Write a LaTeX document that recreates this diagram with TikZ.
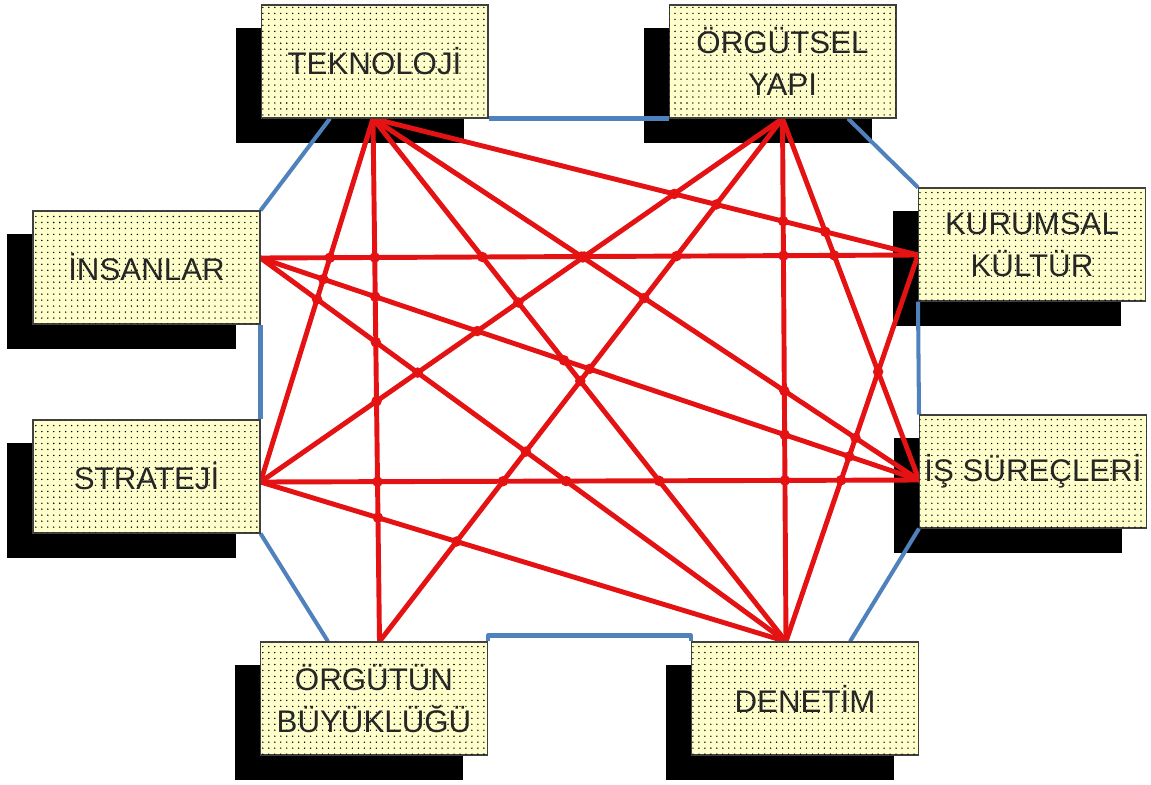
\documentclass[tikz,border=0pt]{standalone}
\usepackage{fontspec}
\setmainfont{Liberation Sans}
\usetikzlibrary{patterns.meta,calc}
\definecolor{boxfill}{RGB}{255,255,204}
\definecolor{linkred}{RGB}{228,18,18}
\definecolor{ringblue}{RGB}{79,129,189}
\pgfdeclarelayer{shadowlayer}
\pgfdeclarelayer{linklayer}
\pgfsetlayers{shadowlayer,linklayer,main}
\tikzset{
  factor/.style={draw=black!75, line width=0.6pt, fill=boxfill,
    postaction={pattern={Dots[distance=3.4pt,radius=0.45pt]}, pattern color=black},
    minimum width=4.54cm, minimum height=2.26cm, inner sep=0pt, align=center,
    font=\fontsize{17.8}{23.8}\selectfont, text=black!85},
  boxshadow/.style={fill=black},
  ring/.style={draw=ringblue, line width=2.3pt, line join=round},
  link/.style={draw=linkred, line width=2.8pt, line cap=round},
  linkjoint/.style={fill=linkred}
}
\def\linklist{t/k,t/p,t/s,t/b,t/d,o/s,o/b,o/d,o/p,i/k,i/p,i/d,s/p,s/d,k/d}
\begin{document}
\begin{tikzpicture}[x=0.02cm, y=-0.02cm]
\useasboundingbox (0,0) rectangle (1151,784);

% factor boxes
\node[factor] (tek) at (374.5,61.5) {TEKNOLOJİ};
\node[factor] (org) at (782.5,61.5) {ÖRGÜTSEL\\YAPI};
\node[factor] (ins) at (146.5,267.5) {İNSANLAR};
\node[factor] (kur) at (1032,244.5) {KURUMSAL\\KÜLTÜR};
\node[factor] (isr) at (1033,471.5) {İŞ SÜREÇLERİ};
\node[factor] (str) at (146.5,476.5) {STRATEJİ};
\node[factor] (buy) at (374,698.5) {ÖRGÜTÜN\\BÜYÜKLÜĞÜ};
\node[factor] (den) at (805,698.5) {DENETİM};

% solid shadows behind the boxes
\begin{pgfonlayer}{shadowlayer}
\foreach \bx in {tek,org,ins,kur,isr,str,buy,den}
  \fill[boxshadow] ([shift={(-25,24)}]\bx.south west) rectangle ([shift={(-25,24)}]\bx.north east);
\end{pgfonlayer}

% end points of the red links
\coordinate (t) at ([shift={(-1.5,0)}]tek.south);
\coordinate (o) at (org.south);
\coordinate (i) at ([shift={(0,-9.5)}]ins.east);
\coordinate (k) at ([shift={(0,10.5)}]kur.west);
\coordinate (p) at ([shift={(0,8.5)}]isr.west);
\coordinate (s) at ([shift={(0,5.5)}]str.east);
\coordinate (b) at ([shift={(5.5,0)}]buy.north);
\coordinate (d) at ([shift={(-19,0)}]den.north);

% points where the blue ring meets the boxes
\coordinate (rt) at ([shift={(-44.5,0)}]tek.south);
\coordinate (rb) at ([shift={(-46,0)}]buy.north);
\coordinate (rd) at ([shift={(45,0)}]den.north);
\coordinate (ro) at ([shift={(65.5,0)}]org.south);

\begin{pgfonlayer}{linklayer}
% outer blue ring
\draw[ring] (rt) -- (ins.north east);
\draw[ring] (ins.south east) -- (str.north east);
\draw[ring] (str.south east) -- (rb);
\draw[ring] (buy.north east) -- ++(0,-6) -| (den.north west);
\draw[ring] (rd) -- (isr.south west);
\draw[ring] (isr.north west) -- (kur.south west);
\draw[ring] (kur.north west) -- (ro);
\draw[ring] (org.south west) -- (tek.south east);

% red links between the factors
\foreach \u/\v in \linklist
  \draw[link] (\u) -- (\v);

% round joints where two links cross
\foreach \a/\b [count=\m] in \linklist {
  \foreach \c/\d [count=\n] in \linklist {
    \ifnum\n>\m
      \path let \p1=(\a), \p2=(\b), \p3=(\c), \p4=(\d) in
        \pgfextra{%
          \pgfmathsetmacro\jrx{(\x2-\x1)/100}%
          \pgfmathsetmacro\jry{(\y2-\y1)/100}%
          \pgfmathsetmacro\jqx{(\x4-\x3)/100}%
          \pgfmathsetmacro\jqy{(\y4-\y3)/100}%
          \pgfmathsetmacro\jwx{(\x3-\x1)/100}%
          \pgfmathsetmacro\jwy{(\y3-\y1)/100}%
          \pgfmathsetmacro\jden{\jrx*\jqy-\jry*\jqx}%
          \pgfmathsetmacro\jdd{abs(\jden)<0.0001 ? 1 : \jden}%
          \pgfmathsetmacro\jt{(\jwx*\jqy-\jwy*\jqx)/\jdd}%
          \pgfmathsetmacro\ju{(\jwx*\jry-\jwy*\jrx)/\jdd}%
          \pgfmathtruncatemacro\jhit{(abs(\jden)>=0.0001)&&(\jt>0.001)&&(\jt<0.999)&&(\ju>0.001)&&(\ju<0.999) ? 1 : 0}%
          \xdef\jointhit{\jhit}\xdef\jointt{\jt}%
        };
      \ifnum\jointhit=1
        \fill[linkjoint] ($(\a)!\jointt!(\b)$) circle (3pt);
      \fi
    \fi
  }
}
\end{pgfonlayer}
\end{tikzpicture}
\end{document}
